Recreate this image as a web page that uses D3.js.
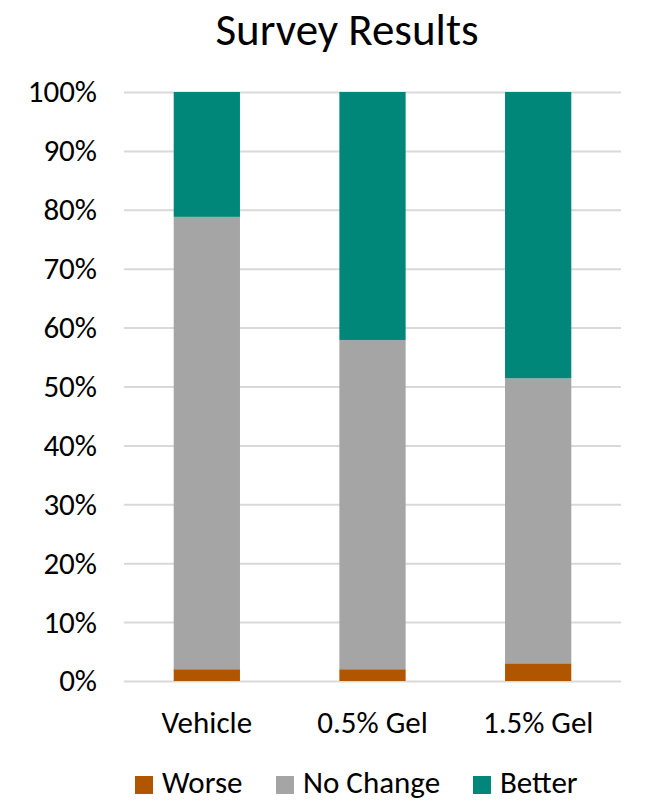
<!DOCTYPE html>
<html>
<head>
<meta charset="utf-8">
<script src="https://cdn.jsdelivr.net/npm/d3@7/dist/d3.min.js"></script>
<style>
  html, body { margin: 0; padding: 0; background: #fff; }
  svg text { font-family: Carlito, Calibri, Lato, "Open Sans", sans-serif; fill: #000; }
</style>
</head>
<body>
<svg id="chart" width="668" height="801"></svg>
<script>
// Survey response shares (%) per treatment group
const categories = ["Vehicle", "0.5% Gel", "1.5% Gel"];
const seriesNames = ["Worse", "No Change", "Better"];
const worse = [2, 2, 3];
const noChange = [76.8, 55.9, 48.4];
const better = [21.2, 42.1, 48.6];
const yTicks = [0, 10, 20, 30, 40, 50, 60, 70, 80, 90, 100];
const colors = ["#B15600", "#A5A5A5", "#00877A"];

const svg = d3.select("#chart");
const margin = { left: 124, right: 47, top: 92, bottom: 120 };
const W = 668;
const plotBottom = 681;

const rows = categories.map((c, i) => ({
  category: c,
  "Worse": worse[i],
  "No Change": noChange[i],
  "Better": better[i]
}));
const stacked = d3.stack().keys(seriesNames)(rows);

const x = d3.scaleBand()
  .domain(categories)
  .range([margin.left, W - margin.right])
  .paddingInner(0.6)
  .paddingOuter(0.3);

const y = d3.scaleLinear()
  .domain([0, 100])
  .range([plotBottom, margin.top]);

// Title
svg.append("text")
  .attr("x", 347)
  .attr("y", 45)
  .attr("text-anchor", "middle")
  .style("font-size", "45px")
  .text("Survey Results");

// Horizontal gridlines and y-axis labels
const yAxis = d3.axisLeft(y)
  .tickValues(yTicks)
  .tickSize(-(W - margin.right - margin.left))
  .tickPadding(27)
  .tickFormat(d => d + "%");

const gy = svg.append("g")
  .attr("transform", `translate(${margin.left},0)`)
  .call(yAxis);
gy.select(".domain").remove();
gy.selectAll(".tick line").attr("stroke", "#D9D9D9").attr("stroke-width", 2);
gy.selectAll(".tick text")
  .style("font-size", "31px")
  .attr("fill", "#000");

// Stacked bars
svg.append("g")
  .selectAll("g")
  .data(stacked)
  .join("g")
  .attr("fill", (d, i) => colors[i])
  .selectAll("rect")
  .data(d => d)
  .join("rect")
  .attr("x", d => x(d.data.category))
  .attr("width", x.bandwidth())
  .attr("y", d => y(d[1]))
  .attr("height", d => y(d[0]) - y(d[1]));

// Category labels
const xAxis = d3.axisBottom(x).tickSize(0).tickPadding(0);
const gx = svg.append("g")
  .attr("transform", `translate(0,${plotBottom})`)
  .call(xAxis);
gx.select(".domain").remove();
gx.selectAll(".tick text")
  .attr("dy", null)
  .attr("y", 52)
  .style("font-size", "31px")
  .attr("fill", "#000");

// Legend
const legendX = [135, 276, 473];
const legend = svg.append("g")
  .selectAll("g")
  .data(seriesNames)
  .join("g")
  .attr("transform", (d, i) => `translate(${legendX[i]},776)`);
legend.append("rect")
  .attr("width", 18)
  .attr("height", 18)
  .attr("fill", (d, i) => colors[i]);
legend.append("text")
  .attr("x", 27)
  .attr("y", 17)
  .style("font-size", "31px")
  .text(d => d);
</script>
</body>
</html>
